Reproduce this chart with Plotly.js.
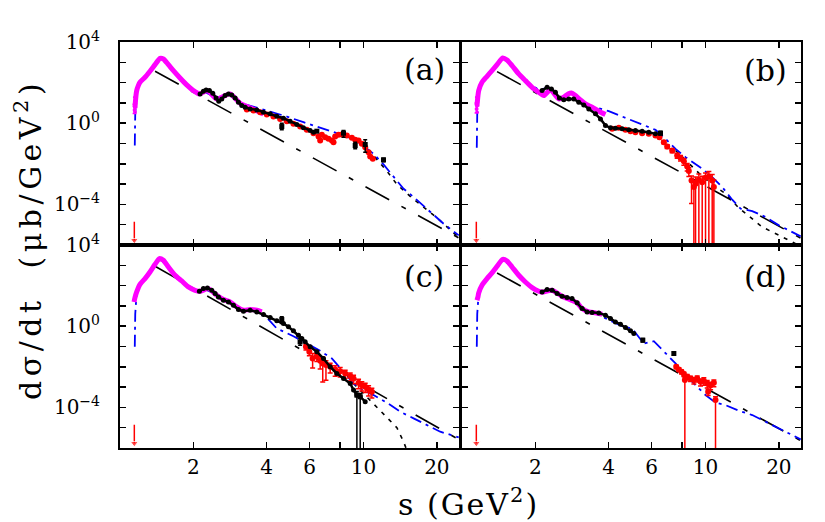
<!DOCTYPE html>
<html><head><meta charset="utf-8">
<script src="https://cdn.plot.ly/plotly-3.0.1.min.js"></script>
<style>html,body{margin:0;padding:0;background:#fff}#chart{width:825px;height:522px}</style>
</head><body><div id="chart"></div>
<script>
// ---------- tick labels ----------
const xTickVals = [2, 4, 6, 10, 20];
const xTickText = ['2', '4', '6', '10', '20'];
const xMinorVals = [8];
const yTickVals = [1e-4, 1, 1e4];
const yTickText = ['10<sup>−4</sup>', '10<sup>0</sup>', '10<sup>4</sup>'];
const yMinorVals = [1e-6, 1e-5, 1e-3, 1e-2, 1e-1, 10, 100, 1000];
const panelLabels = ['(a)', '(b)', '(c)', '(d)'];

// ---------- threshold arrow (all panels) ----------
const arrowS = [1.145, 1.145];
const arrowY = [1.4e-5, 1.7e-6];

// ---------- panel (a) ----------
const aMagS = [1.152, 1.163, 1.171, 1.189, 1.208, 1.267, 1.328, 1.393, 1.460, 1.507, 1.580, 1.657, 1.764, 1.879, 2.001, 2.118, 2.285, 2.496, 2.831, 3.113, 3.532, 3.882];
const aMagY = [6.12, 22.9, 40.4, 71.1, 104, 183, 361, 767, 1570, 1460, 767, 389, 169, 76.8, 40.4, 27.7, 40.4, 15.7, 27.7, 9.64, 4.89, 2.88];
const aMagES = [1.148, 1.152, 1.156];
const aMagEY = [4.5, 6.12, 9.0];
const aMagEP = [4, 13, 10];
const aMagEM = [1.5, 2.6, 3];
const aBlkS = [2.132, 2.200, 2.257, 2.329, 2.404, 2.481, 2.544, 2.617, 2.701, 2.788, 2.877, 2.969, 3.064, 3.162, 3.264, 3.422, 3.645, 3.882, 4.135, 4.404, 4.690, 4.995, 5.321, 5.665, 6.036, 6.229];
const aBlkY = [27.7, 37.5, 43.6, 40.4, 29.9, 17.6, 12.1, 15.7, 22.9, 27.7, 24.7, 17.6, 10.8, 7.40, 6.12, 5.07, 4.53, 3.48, 2.88, 2.21, 1.76, 1.25, 0.860, 0.589, 0.436, 0.361];
const aPtS = [4.617, 6.431, 8.276, 9.243, 10.16, 12.08];
const aPtY = [0.685, 0.404, 0.322, 0.0798, 0.0893, 0.0157];
const aPtEP = [0.315, 0.05, 0.114, 0.036, 0.062, 0.003];
const aPtEM = [0.215, 0.05, 0.117, 0.025, 0.052, 0.003];
const aRedS = [3.316, 3.532, 3.762, 4.006, 4.266, 4.545, 4.840, 5.154, 5.492, 5.849, 6.229, 6.534, 6.637, 6.743, 6.959, 7.182, 7.412, 7.53, 7.648, 7.894, 8.147, 8.54, 8.957, 9.243, 9.539, 9.84, 10.16, 10.49, 10.65, 10.92];
const aRedY = [4.70, 4.20, 3.48, 2.67, 2.13, 1.63, 1.25, 0.927, 0.685, 0.470, 0.322, 0.221, 0.140, 0.267, 0.205, 0.170, 0.140, 0.116, 0.221, 0.267, 0.277, 0.247, 0.190, 0.151, 0.140, 0.0964, 0.0661, 0.0375, 0.0230, 0.0176];
const aBlueS = [1.150, 1.155, 1.171, 1.208, 1.267, 1.328, 1.393, 1.460, 1.580, 1.764, 2.001, 2.200, 2.481, 2.788, 3.064, 3.532, 4.135, 4.840, 5.665, 6.431, 7.53, 8.54, 9.69, 10.99, 12.08, 13.28, 14.60, 16.05, 17.64, 19.40, 21.32, 24.6];
const aBlueY = [0.0798, 3.0, 40.4, 104, 183, 361, 767, 1560, 767, 169, 40.4, 37.5, 17.6, 27.7, 10.8, 6.61, 3.89, 2.13, 1.12, 0.685, 0.389, 0.221, 0.104, 0.031, 9.27e-3, 2.21e-3, 5.89e-4, 2.30e-4, 8.28e-5, 3.22e-5, 1.12e-5, 2.99e-6];
const aDotS = [9.69, 10.99, 12.47, 13.71, 15.55, 17.64, 20.01, 23.44, 24.6];
const aDotY = [0.104, 0.0257, 4.36e-3, 9.64e-4, 2.47e-4, 7.40e-5, 2.21e-5, 3.89e-6, 2.47e-6];
const aLineS = [1.393, 3.532, 10.0, 24.6];
const aLineY = [361, 0.798, 8.43e-4, 2.25e-6];

// ---------- panel (b) ----------
const bMagS = [1.152, 1.163, 1.171, 1.208, 1.267, 1.328, 1.393, 1.469, 1.531, 1.605, 1.710, 1.821, 1.940, 2.066, 2.166, 2.307, 2.496, 2.617, 2.727, 2.814, 2.923, 3.064, 3.213, 3.422, 3.645, 3.882];
const bMagY = [7.4, 22.9, 40.4, 104, 205, 389, 767, 1630, 1300, 686, 267, 125, 58.9, 33.5, 22.9, 45, 15.7, 19.0, 27.7, 31.0, 22.9, 14.1, 8.93, 6.12, 3.89, 2.67];
const bMagES = [1.148, 1.152, 1.156];
const bMagEY = [5.0, 7.4, 11.0];
const bMagEP = [5, 11, 9];
const bMagEM = [1.8, 3.9, 4];
const bBlkS = [2.132, 2.236, 2.329, 2.419, 2.512, 2.617, 2.745, 2.877, 3.016, 3.162, 3.316, 3.532, 3.703, 3.882, 4.070, 4.266, 4.545, 4.840, 5.154, 5.492, 5.849, 6.229];
const bBlkY = [40.4, 58.9, 48.8, 33.5, 17.6, 14.1, 15.7, 15.7, 10.8, 7.98, 5.07, 2.88, 1.63, 0.767, 0.589, 0.567, 0.526, 0.470, 0.436, 0.404, 0.361, 0.299];
const bPtS = [6.534];
const bPtY = [0.322];
const bPtEP = [0.08];
const bPtEM = [0.06];
const bRedS = [4.135, 4.404, 4.690, 4.918, 5.154, 5.492, 5.849, 6.229, 6.47, 6.743, 6.959, 7.295, 7.648, 7.894, 8.147, 8.408, 8.54, 8.76, 8.957, 9.10, 9.389, 9.69, 10.0, 10.32, 10.65, 10.82];
const bRedY = [0.526, 0.589, 0.470, 0.404, 0.361, 0.322, 0.299, 0.247, 0.205, 0.116, 0.0712, 0.0453, 0.0257, 0.0197, 0.0135, 7.39e-3, 4.36e-3, 1.51e-3, 7.11e-4, 1.04e-3, 1.63e-3, 1.25e-3, 2.05e-3, 2.38e-3, 1.51e-3, 7.11e-4];
const bRedEP = [0.05, 0.06, 0.05, 0.04, 0.04, 0.03, 0.03, 0.03, 0.03, 0.02, 0.015, 0.01, 0.007, 0.006, 0.005, 3e-3, 2e-3, 1e-3, 8e-4, 1.2e-3, 1.5e-3, 1.2e-3, 1.5e-3, 1.8e-3, 1.5e-3, 9e-4];
const bRedEM = [0.05, 0.06, 0.05, 0.04, 0.04, 0.03, 0.03, 0.03, 0.03, 0.02, 0.015, 0.01, 0.007, 0.006, 0.005, 3e-3, 2e-3, 1.4e-3, 7.109e-4, 1.0399e-3, 1.6299e-3, 1.2499e-3, 2.0499e-3, 2.3799e-3, 1.5099e-3, 7.109e-4];
const bBlueS = [1.150, 1.155, 1.171, 1.208, 1.267, 1.328, 1.393, 1.469, 1.605, 1.821, 2.066, 2.236, 2.512, 2.814, 3.162, 3.532, 4.006, 4.545, 4.995, 5.492, 6.229, 6.849, 7.53, 8.276, 9.10, 9.69, 10.65, 11.71, 12.87, 13.93, 15.55, 17.64, 20.01, 24.6];
const bBlueY = [0.0612, 3.0, 40.4, 104, 205, 389, 767, 1630, 686, 125, 43.6, 54.7, 17.6, 31.0, 8.0, 6.12, 3.89, 2.13, 1.46, 0.927, 0.470, 0.170, 0.0547, 0.0213, 9.27e-3, 5.68e-3, 2.21e-3, 7.11e-4, 1.70e-4, 6.12e-5, 4.70e-5, 2.38e-5, 9.27e-6, 2.67e-6];
const bDotS = [7.53, 8.54, 9.389, 10.65, 12.08, 13.71, 15.55, 17.10, 20.01, 23.44];
const bDotY = [0.0453, 0.0100, 3.48e-3, 9.64e-4, 3.35e-4, 6.6e-5, 1.97e-5, 7.7e-6, 3.0e-6, 1.16e-6];
const bLineS = [1.393, 3.532, 10.0, 24.6];
const bLineY = [347, 0.767, 7.98e-4, 2.17e-6];

// ---------- panel (c) ----------
const cMagS = [1.142, 1.152, 1.171, 1.208, 1.267, 1.328, 1.393, 1.451, 1.507, 1.580, 1.683, 1.792, 1.909, 2.033, 2.132, 2.307, 2.496, 2.659, 2.831, 3.016, 3.213, 3.422, 3.645, 3.82];
const cMagY = [15.7, 25.7, 48.8, 116, 221, 470, 1120, 2130, 1760, 828, 322, 169, 85.9, 58.9, 52.6, 71.1, 33.5, 20.5, 15.7, 8.93, 6.12, 6.61, 6.12, 5.07];
const cBlkS = [2.118, 2.200, 2.285, 2.381, 2.458, 2.536, 2.659, 2.788, 2.923, 3.064, 3.213, 3.422, 3.645, 3.882, 4.135, 4.404, 4.690, 4.918, 5.154, 5.406, 5.580, 5.758, 6.036, 6.431, 6.849, 7.295, 7.77, 8.276, 8.816, 9.10, 9.389, 9.69, 10.16];
const cBlkY = [52.6, 71.1, 76.8, 58.9, 40.4, 27.7, 19.0, 15.7, 10.8, 6.61, 5.47, 6.12, 5.07, 3.75, 2.67, 1.83, 1.35, 0.927, 0.589, 0.361, 0.247, 0.170, 0.0964, 0.0547, 0.0257, 0.0100, 4.70e-3, 2.67e-3, 1.51e-3, 7.11e-4, 4.04e-4, 3.35e-4, 1.90e-4];
const cPtS = [4.617, 5.49, 9.39, 9.69];
const cPtY = [2.13, 0.17, 4.0e-4, 3.35e-4];
const cPtEP = [0.75, 0.077, 2e-4, 1.5e-4];
const cPtEM = [0.78, 0.054, 3.999e-4, 3.349e-4];
const cRedS = [5.80, 5.99, 6.18, 6.431, 6.637, 6.80, 7.01, 7.295, 7.648, 8.02, 8.408, 8.816, 9.10, 9.539, 9.84, 10.16, 10.49, 10.82];
const cRedY = [0.0964, 0.0547, 0.0257, 0.0335, 0.0197, 0.0146, 0.0121, 0.0100, 7.39e-3, 6.12e-3, 4.70e-3, 3.48e-3, 2.67e-3, 1.63e-3, 1.25e-3, 1.04e-3, 7.67e-4, 5.89e-4];
const cRedEP = [0.03, 0.025, 0.02, 0.015, 0.012, 0.016, 0.008, 0.005, 0.004, 0.003, 0.002, 0.0015, 0.0012, 0.0008, 0.0006, 0.0005, 0.0004, 0.0003];
const cRedEM = [0.03, 0.02, 0.017, 0.015, 0.012, 0.0128, 0.0099, 0.005, 0.004, 0.003, 0.002, 0.0015, 0.0012, 0.0008, 0.0006, 0.0005, 0.0004, 0.0003];
const cBlueS = [1.150, 1.155, 1.171, 1.208, 1.267, 1.328, 1.393, 1.451, 1.580, 1.792, 2.033, 2.200, 2.458, 2.788, 3.213, 3.532, 4.006, 4.404, 5.154, 5.849, 6.637, 7.412, 8.276, 9.10, 9.69, 10.99, 12.47, 14.15, 16.05, 18.21, 20.65, 24.6];
const cBlueY = [0.0964, 4.0, 48.8, 116, 221, 470, 1120, 2130, 828, 169, 58.9, 71.1, 40.4, 15.7, 5.47, 6.12, 2.67, 0.767, 0.322, 0.140, 0.0612, 0.0257, 5.68e-3, 1.51e-3, 8.59e-4, 4.04e-4, 1.70e-4, 6.12e-5, 2.88e-5, 1.35e-5, 6.35e-6, 3.35e-6];
const cDotS = [9.10, 9.69, 10.49, 11.34, 12.47, 13.71, 14.60, 15.07];
const cDotY = [1.51e-3, 7.11e-4, 2.77e-4, 1.08e-4, 3.48e-5, 1.0e-5, 2.05e-6, 7.6e-7];
const cLineS = [1.393, 3.532, 10.0, 24.6];
const cLineY = [893, 1.53, 1.23e-3, 2.62e-6];

// ---------- panel (d) ----------
const dMagS = [1.152, 1.163, 1.171, 1.208, 1.267, 1.328, 1.393, 1.469, 1.531, 1.605, 1.710, 1.821, 1.940, 2.066, 2.132, 2.344, 2.576, 2.969, 3.113, 3.316, 3.532, 3.762];
const dMagY = [19.0, 27.7, 43.6, 104, 221, 420, 893, 1970, 1630, 828, 322, 151, 79.8, 52.6, 47.0, 58.9, 29.9, 14.1, 7.40, 5.07, 4.53, 3.89];
const dBlkS = [2.132, 2.236, 2.344, 2.458, 2.576, 2.701, 2.831, 2.969, 3.113, 3.264, 3.422, 3.645, 3.882, 4.070, 4.266, 4.474, 4.690, 4.918, 5.076];
const dBlkY = [48.8, 63.5, 58.9, 40.4, 29.9, 25.7, 22.9, 14.1, 7.40, 5.07, 4.70, 4.53, 3.48, 2.38, 1.63, 1.25, 0.860, 0.589, 0.436];
const dPtS = [5.527, 7.412];
const dPtY = [0.205, 0.0453];
const dPtEP = [0.04, 0.008];
const dPtEM = [0.04, 0.008];
const dRedS = [7.58, 7.77, 7.97, 8.147, 8.224, 8.408, 8.678, 8.957, 9.243, 9.539, 9.84, 10.16, 10.25, 10.49, 10.82, 10.99];
const dRedY = [0.0100, 7.39e-3, 5.68e-3, 4.36e-3, 2.21e-3, 3.22e-3, 2.67e-3, 2.21e-3, 2.67e-3, 1.83e-3, 2.05e-3, 1.51e-3, 5.89e-4, 1.25e-3, 1.63e-3, 2.30e-4];
const dRedEP = [2e-3, 1.5e-3, 1.2e-3, 1e-3, 8e-4, 9e-4, 8e-4, 8e-4, 9e-4, 7e-4, 8e-4, 6e-4, 2e-4, 5e-4, 6e-4, 1e-4];
const dRedEM = [2e-3, 1.5e-3, 1.2e-3, 1e-3, 2.2099e-3, 9e-4, 8e-4, 8e-4, 9e-4, 7e-4, 8e-4, 6e-4, 2e-4, 5e-4, 6e-4, 2.299e-4];
const dBlueS = [1.150, 1.155, 1.171, 1.208, 1.267, 1.328, 1.393, 1.469, 1.605, 1.821, 2.066, 2.236, 2.458, 2.831, 3.113, 3.532, 4.006, 4.545, 4.995, 5.58, 6.133, 6.849, 7.53, 8.276, 9.10, 10.0, 10.99, 12.08, 13.71, 15.55, 17.64, 20.01, 24.6];
const dBlueY = [0.0964, 4.0, 43.6, 104, 221, 420, 893, 1970, 828, 151, 52.6, 63.5, 40.4, 22.9, 7.40, 4.20, 1.97, 1.0, 0.767, 0.140, 0.183, 0.0453, 0.0146, 3.89e-3, 1.25e-3, 4.04e-4, 1.70e-4, 1.30e-4, 6.85e-5, 4.2e-5, 1.97e-5, 9.27e-6, 2.67e-6];
const dLineS = [1.393, 3.532, 10.0, 24.6];
const dLineY = [420, 0.88, 8.93e-4, 2.3e-6];

// ---------- styles ----------
const MAG = '#ff00ff', RED = '#ff0000', BLUE = '#0000ff', BLK = '#000000';
const FONT = 'DejaVu Serif, Liberation Serif, serif';

function build(xa, ya, P) {
  const t = [];
  const base = { xaxis: xa, yaxis: ya, hoverinfo: 'skip', showlegend: false };
  t.push(Object.assign({}, base, { x: P.lineS, y: P.lineY, mode: 'lines',
    line: { color: BLK, width: 1.6, dash: '27px,14px,5px,14px' } }));
  if (P.dotS) t.push(Object.assign({}, base, { x: P.dotS, y: P.dotY, mode: 'lines',
    line: { color: BLK, width: 1.6, dash: '4px,6px' } }));
  t.push(Object.assign({}, base, { x: P.blueS, y: P.blueY, mode: 'lines',
    line: { color: BLUE, width: 1.8, dash: '12px,5px,3px,5px' } }));
  t.push(Object.assign({}, base, { x: P.magS, y: P.magY, mode: 'lines',
    line: { color: MAG, width: 5, shape: 'spline', smoothing: 0.6 } }));
  if (P.magES) t.push(Object.assign({}, base, { x: P.magES, y: P.magEY, mode: 'markers',
    marker: { color: MAG, size: 4 },
    error_y: { type: 'data', symmetric: false, array: P.magEP, arrayminus: P.magEM, color: MAG, thickness: 1.5, width: 2 } }));
  const red = Object.assign({}, base, { x: P.redS, y: P.redY, mode: 'markers',
    marker: { color: RED, size: 6 } });
  if (P.redEP) red.error_y = { type: 'data', symmetric: false, array: P.redEP, arrayminus: P.redEM, color: RED, thickness: 1.5, width: 2.5 };
  t.push(red);
  t.push(Object.assign({}, base, { x: P.blkS, y: P.blkY, mode: 'lines+markers',
    line: { color: BLK, width: 2.5 }, marker: { color: BLK, size: 5 } }));
  t.push(Object.assign({}, base, { x: P.ptS, y: P.ptY, mode: 'markers',
    marker: { color: BLK, size: 5, symbol: 'square' },
    error_y: { type: 'data', symmetric: false, array: P.ptEP, arrayminus: P.ptEM, color: BLK, thickness: 1.5, width: 2 } }));
  t.push(Object.assign({}, base, { x: arrowS, y: arrowY, mode: 'lines+markers',
    line: { color: RED, width: 1.5 }, marker: { color: RED, size: [0, 7], symbol: 'triangle-down' } }));
  return t;
}

const data = [].concat(
  build('x', 'y', { lineS: aLineS, lineY: aLineY, dotS: aDotS, dotY: aDotY, blueS: aBlueS, blueY: aBlueY,
    magS: aMagS, magY: aMagY, magES: aMagES, magEY: aMagEY, magEP: aMagEP, magEM: aMagEM,
    redS: aRedS, redY: aRedY, blkS: aBlkS, blkY: aBlkY, ptS: aPtS, ptY: aPtY, ptEP: aPtEP, ptEM: aPtEM }),
  build('x2', 'y2', { lineS: bLineS, lineY: bLineY, dotS: bDotS, dotY: bDotY, blueS: bBlueS, blueY: bBlueY,
    magS: bMagS, magY: bMagY, magES: bMagES, magEY: bMagEY, magEP: bMagEP, magEM: bMagEM,
    redS: bRedS, redY: bRedY, redEP: bRedEP, redEM: bRedEM, blkS: bBlkS, blkY: bBlkY, ptS: bPtS, ptY: bPtY, ptEP: bPtEP, ptEM: bPtEM }),
  build('x3', 'y3', { lineS: cLineS, lineY: cLineY, dotS: cDotS, dotY: cDotY, blueS: cBlueS, blueY: cBlueY,
    magS: cMagS, magY: cMagY,
    redS: cRedS, redY: cRedY, redEP: cRedEP, redEM: cRedEM, blkS: cBlkS, blkY: cBlkY, ptS: cPtS, ptY: cPtY, ptEP: cPtEP, ptEM: cPtEM }),
  build('x4', 'y4', { lineS: dLineS, lineY: dLineY, blueS: dBlueS, blueY: dBlueY,
    magS: dMagS, magY: dMagY,
    redS: dRedS, redY: dRedY, redEP: dRedEP, redEM: dRedEM, blkS: dBlkS, blkY: dBlkY, ptS: dPtS, ptY: dPtY, ptEP: dPtEP, ptEM: dPtEM })
);

function xax(domain, anchor, labels) {
  return { type: 'log', domain: domain, anchor: anchor, range: [0.0, 1.392],
    showline: true, linecolor: BLK, linewidth: 2, mirror: 'allticks',
    ticks: 'inside', ticklen: 6, tickwidth: 1.5, tickcolor: BLK,
    tickmode: 'array', tickvals: xTickVals, ticktext: xTickText,
    minor: { tickmode: 'array', tickvals: xMinorVals, ticks: 'inside', ticklen: 6, tickwidth: 1.5, tickcolor: BLK, showgrid: false },
    showticklabels: labels, ticklabelstandoff: 0,
    tickfont: { family: FONT, size: 20, color: BLK },
    showgrid: false, zeroline: false, fixedrange: true };
}
function yax(domain, anchor, labels) {
  return { type: 'log', domain: domain, anchor: anchor, range: [-6, 4],
    showline: true, linecolor: BLK, linewidth: 2, mirror: 'allticks',
    ticks: 'inside', ticklen: 6, tickwidth: 1.5, tickcolor: BLK,
    tickmode: 'array', tickvals: yTickVals, ticktext: yTickText,
    minor: { tickmode: 'array', tickvals: yMinorVals, ticks: 'inside', ticklen: 6, tickwidth: 1.5, tickcolor: BLK, showgrid: false },
    showticklabels: labels, ticklabelstandoff: 14,
    tickfont: { family: FONT, size: 20, color: BLK },
    showgrid: false, zeroline: false, fixedrange: true };
}

const W = 825, H = 522;
const xdA = [120 / W, 459 / W], xdB = [462 / W, 801 / W];
const ydTop = [1 - 245 / H, 1 - 42 / H], ydBot = [1 - 448 / H, 1 - 245 / H];

const lblPos = [[424, 69], [765, 70], [424, 276], [765, 276]];
const annotations = panelLabels.map((t, i) => ({
  text: t, xref: 'paper', yref: 'paper', x: lblPos[i][0] / W, y: 1 - lblPos[i][1] / H,
  xanchor: 'center', yanchor: 'middle', showarrow: false,
  font: { family: FONT, size: 30, color: BLK } }));
annotations.push({
  text: '<span style="letter-spacing:4.5px">dσ/dt\u00a0 (μb/GeV<sup>2</sup>)</span>',
  xref: 'paper', yref: 'paper', x: 28 / W, y: 1 - 240 / H, textangle: -90,
  xanchor: 'center', yanchor: 'middle', showarrow: false,
  font: { family: FONT, size: 30, color: BLK } });
annotations.push({
  text: '<span style="letter-spacing:2px">s (GeV<sup>2</sup>)</span>',
  xref: 'paper', yref: 'paper', x: 468 / W, y: 1 - 502 / H,
  xanchor: 'center', yanchor: 'middle', showarrow: false,
  font: { family: FONT, size: 30, color: BLK } });

const layout = {
  width: W, height: H, margin: { l: 0, r: 0, t: 0, b: 0 },
  paper_bgcolor: '#fff', plot_bgcolor: '#fff', showlegend: false,
  xaxis: xax(xdA, 'y', false), yaxis: yax(ydTop, 'x', true),
  xaxis2: xax(xdB, 'y2', false), yaxis2: yax(ydTop, 'x2', false),
  xaxis3: xax(xdA, 'y3', true), yaxis3: yax(ydBot, 'x3', true),
  xaxis4: xax(xdB, 'y4', true), yaxis4: yax(ydBot, 'x4', false),
  annotations: annotations
};

Plotly.newPlot('chart', data, layout, { displayModeBar: false, staticPlot: true });
</script>
</body></html>
